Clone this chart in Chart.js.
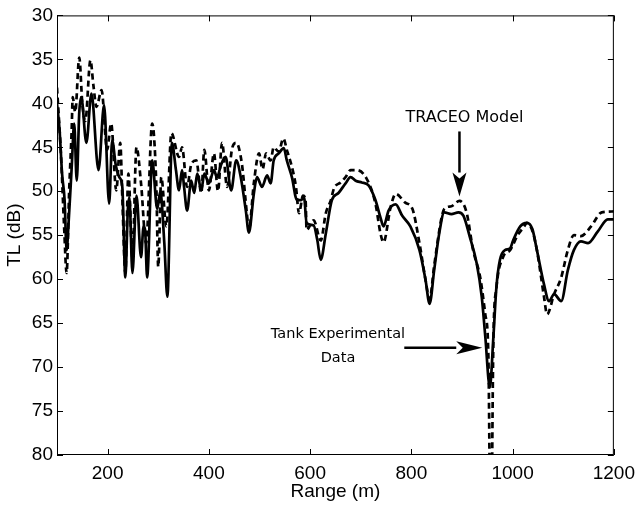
<!DOCTYPE html>
<html>
<head>
<meta charset="utf-8">
<script src="https://cdn.jsdelivr.net/npm/chart.js@4.4.1/dist/chart.umd.min.js"></script>
<style>
  html, body { margin: 0; padding: 0; background: #fff; }
  #wrap { width: 642px; height: 505px; }
</style>
</head>
<body>
<div id="wrap"><canvas id="tl-chart" width="642" height="505"></canvas></div>
<script>
// Tank experimental data (solid)
const tankRange = [100, 105, 110, 115, 119, 123, 129, 134, 139, 144, 148, 158, 168, 182, 193, 203, 209, 216, 223, 229,
  235, 240, 243, 249, 257, 266, 271, 274, 278, 288, 298, 304, 312, 318, 327, 335, 341, 347, 351, 357,
  365, 371, 377, 385, 391, 400, 410, 416, 424, 433, 444, 454, 463, 473, 479, 489, 495, 505, 515, 522,
  528, 538, 548, 554, 564, 574, 582, 588, 593, 607, 614, 621, 631, 643, 656, 670, 680, 690, 702, 715,
  729, 739, 745, 755, 769, 782, 798, 816, 828, 836, 845, 855, 865, 879, 893, 903, 915, 929, 939, 946,
  955, 962, 968, 975, 985, 995, 1001, 1015, 1028, 1039, 1048, 1062, 1072, 1082, 1096, 1109, 1121, 1135, 1149, 1168,
  1188, 1200];
const tankTL = [40.0, 43, 48, 51, 56.7, 53.5, 47.3, 42.3, 48.8, 41, 39.3, 44.5, 38.9, 47.6, 40.2, 51.4, 44.2, 47, 48.4, 49.5,
  59.8, 52, 50.7, 59.3, 50.5, 57.5, 54, 54.4, 59.8, 46.5, 52, 50, 55.9, 62, 44.5, 47.6, 49.9, 47.6, 49.5, 52.2,
  48.8, 50.2, 48, 49.9, 48, 49.1, 47.6, 48.4, 47, 46.1, 49.9, 46.5, 48.4, 52.2, 54.7, 50.2, 48.4, 49.5, 48.2, 49.1,
  46.5, 45.7, 45.1, 46.5, 48.4, 51, 51, 50.7, 53.6, 53.9, 55.5, 57.8, 54.8, 51, 50.2, 49.1, 48.4, 48.8, 49, 49.3,
  51, 53, 54, 52.2, 51.5, 52.8, 54, 56.7, 60.1, 62.8, 59, 54.8, 52.4, 52.6, 52.4, 52.8, 55.1, 58.2, 62, 66.5,
  72.3, 66.6, 60.9, 57.8, 56.7, 56.5, 55.6, 54, 53.6, 54.3, 56.7, 60.6, 62.5, 61.7, 62.5, 59, 56.7, 55.7, 55.9, 54.6,
  53.2, 53.2];

// TRACEO model (dashed)
const modelRange = [100, 108, 114, 119, 124, 129, 131, 136, 144, 150, 156, 166, 172, 178, 188, 199, 207, 217, 225, 229,
  235, 241, 249, 257, 266, 276, 288, 296, 300, 306, 316, 326, 341, 347, 357, 365, 375, 385, 391, 400,
  410, 418, 426, 436, 446, 454, 465, 475, 479, 489, 499, 506, 513, 522, 528, 538, 547, 555, 562, 572,
  578, 586, 591, 593, 607, 621, 631, 641, 647, 660, 670, 680, 692, 711, 729, 739, 745, 759, 769, 788,
  802, 816, 828, 836, 845, 859, 865, 879, 895, 909, 922, 936, 946, 952, 957, 962, 968, 981, 995, 1010,
  1023, 1028, 1039, 1048, 1062, 1068, 1082, 1096, 1109, 1121, 1135, 1155, 1176, 1200];
const modelTL = [38.2, 46, 54, 59.3, 50, 43, 39.3, 41, 34.8, 40, 42, 35.1, 38, 40.4, 38.5, 45.3, 42.3, 49.9, 44.5, 50.7,
  59.3, 48, 57.5, 45, 49.1, 55.9, 42.3, 49, 58.6, 48.4, 54, 43.4, 46.1, 45, 49.5, 47, 46.5, 50.2, 45.3, 49.9,
  45.7, 50, 44.5, 49.5, 45.1, 44.5, 46.8, 52.5, 54.4, 49, 45.7, 47.5, 45.7, 46.5, 45, 45.5, 44, 45.5, 46.8, 49.5,
  52.5, 50.5, 51, 54.4, 53.3, 55.6, 52.5, 51, 49.7, 49, 48.4, 47.6, 47.6, 48.5, 51.4, 54.8, 55.8, 51.8, 50.3, 51.3,
  52, 55.9, 60.1, 62.3, 58.5, 53.2, 52, 51.7, 51.1, 52.4, 56.7, 59.8, 64, 68.4, 92, 67, 61, 57.5, 56.7, 55,
  54, 53.6, 54.5, 56.7, 62, 64, 61.7, 59.8, 56.7, 55, 55.1, 54, 52.4, 52.3];

const rangeTicks = [200, 400, 600, 800, 1000, 1200];
const tlTicks = [30, 35, 40, 45, 50, 55, 60, 65, 70, 75, 80];

const axisFont = { family: '"Liberation Sans", Arial, sans-serif', size: 19 };
const noteFont = '"DejaVu Sans", sans-serif';

function toPoints(xs, ys) {
    return xs.map((x, i) => ({ x: x, y: ys[i] }));
}

// box with inward ticks on all four sides, like the original figure
const frameTicks = {
    id: 'frameTicks',
    afterDatasetsDraw(chart) {
        const { ctx, chartArea: a, scales: { x, y } } = chart;
        const len = 6;
        ctx.save();
        ctx.strokeStyle = '#000';
        ctx.lineWidth = 1;
        ctx.strokeRect(a.left + 0.5, a.top + 0.5, a.right - a.left - 1, a.bottom - a.top - 1);
        ctx.beginPath();
        rangeTicks.forEach(v => {
            const px = Math.round(x.getPixelForValue(v)) + 0.5;
            ctx.moveTo(px, a.bottom); ctx.lineTo(px, a.bottom - len);
            ctx.moveTo(px, a.top); ctx.lineTo(px, a.top + len);
        });
        tlTicks.forEach(v => {
            const py = Math.round(y.getPixelForValue(v)) + 0.5;
            ctx.moveTo(a.left, py); ctx.lineTo(a.left + len, py);
            ctx.moveTo(a.right, py); ctx.lineTo(a.right - len, py);
        });
        ctx.stroke();
        ctx.restore();
    }
};

function arrow(ctx, x1, y1, x2, y2, headLen, headHalf) {
    const ang = Math.atan2(y2 - y1, x2 - x1);
    const bx = x2 - headLen * Math.cos(ang);
    const by = y2 - headLen * Math.sin(ang);
    ctx.beginPath();
    ctx.moveTo(x1, y1);
    ctx.lineTo(bx, by);
    ctx.lineWidth = 2.5;
    ctx.stroke();
    ctx.beginPath();
    ctx.moveTo(x2, y2);
    ctx.lineTo(bx + headHalf * Math.sin(ang), by - headHalf * Math.cos(ang));
    ctx.lineTo(bx + headLen * 0.25 * Math.cos(ang), by + headLen * 0.25 * Math.sin(ang));
    ctx.lineTo(bx - headHalf * Math.sin(ang), by + headHalf * Math.cos(ang));
    ctx.closePath();
    ctx.fill();
}

const notes = {
    id: 'notes',
    afterDatasetsDraw(chart) {
        const { ctx, scales: { x, y } } = chart;
        ctx.save();
        ctx.fillStyle = '#000';
        ctx.strokeStyle = '#000';
        ctx.textAlign = 'center';
        ctx.textBaseline = 'middle';

        ctx.font = '16px ' + noteFont;
        ctx.fillText('TRACEO Model', x.getPixelForValue(905), y.getPixelForValue(41.6));
        arrow(ctx, x.getPixelForValue(895), y.getPixelForValue(43.2),
            x.getPixelForValue(895), y.getPixelForValue(50.6), 24, 7);

        ctx.font = '14.5px ' + noteFont;
        ctx.fillText('Tank Experimental', x.getPixelForValue(655), y.getPixelForValue(66.3));
        ctx.fillText('Data', x.getPixelForValue(655), y.getPixelForValue(69.0));
        arrow(ctx, x.getPixelForValue(786), y.getPixelForValue(67.8),
            x.getPixelForValue(940), y.getPixelForValue(67.8), 26, 6.5);
        ctx.restore();
    }
};

new Chart(document.getElementById('tl-chart'), {
    type: 'line',
    data: {
        datasets: [
            {
                label: 'TRACEO Model',
                data: toPoints(modelRange, modelTL),
                borderColor: '#000',
                borderWidth: 2.7,
                borderDash: [6, 4],
                pointRadius: 0,
                cubicInterpolationMode: 'monotone'
            },
            {
                label: 'Tank Experimental Data',
                data: toPoints(tankRange, tankTL),
                borderColor: '#000',
                borderWidth: 2.7,
                pointRadius: 0,
                cubicInterpolationMode: 'monotone'
            }
        ]
    },
    options: {
        responsive: false,
        animation: false,
        devicePixelRatio: 1,
        layout: { padding: { left: 0, right: 26, top: 15, bottom: 0 } },
        plugins: {
            legend: { display: false },
            tooltip: { enabled: false }
        },
        scales: {
            x: {
                type: 'linear',
                min: 100,
                max: 1200,
                grid: { display: false, drawTicks: false },
                border: { display: false },
                afterBuildTicks: s => { s.ticks = rangeTicks.map(v => ({ value: v })); },
                afterFit: s => { s.height = 50; },
                ticks: { color: '#000', font: axisFont, padding: 7, maxRotation: 0, callback: v => String(v) },
                title: { display: true, text: 'Range (m)', color: '#000', font: axisFont, padding: { top: 0, bottom: 2 } }
            },
            y: {
                type: 'linear',
                reverse: true,
                min: 30,
                max: 80,
                grid: { display: false, drawTicks: false },
                border: { display: false },
                afterBuildTicks: s => { s.ticks = tlTicks.map(v => ({ value: v })); },
                afterFit: s => { s.width = 57; },
                ticks: { color: '#000', font: axisFont, padding: 4, callback: v => String(v) },
                title: { display: true, text: 'TL (dB)', color: '#000', font: axisFont, padding: { top: 3, bottom: 0 } }
            }
        }
    },
    plugins: [frameTicks, notes]
});
</script>
</body>
</html>
